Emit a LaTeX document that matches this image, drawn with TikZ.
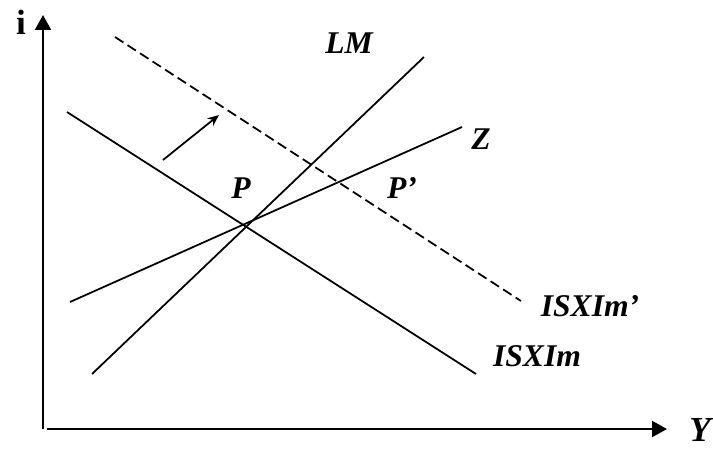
\documentclass[tikz,border=0pt]{standalone}
\usepackage{fontspec}
\setmainfont{Liberation Serif}
\usetikzlibrary{arrows.meta}
\tikzset{
    curvelbl/.style={font=\fontsize{18}{21}\selectfont\bfseries\itshape, inner sep=0pt},
    curve/.style={line width=1pt},
    axis/.style={line width=1.4pt, -{Triangle[length=8.5pt,width=9pt]}}
}

\begin{document}
\begin{tikzpicture}[x=0.02cm,y=-0.02cm,>=Stealth]
    \useasboundingbox (0,0) rectangle (713,450);
    % Define coordinates
    \coordinate (O) at (43,429);
    \coordinate (Ytop) at (43,15);
    \coordinate (Xstart) at (47,429);
    \coordinate (Xend) at (667,429);
    \coordinate (LMa) at (92,374);
    \coordinate (LMb) at (424,57);
    \coordinate (ISa) at (67,112);
    \coordinate (ISb) at (476,374);
    \coordinate (Za) at (70,302);
    \coordinate (Zb) at (462,127);
    \coordinate (ISna) at (115,37);
    \coordinate (ISnb) at (521,301);
    \coordinate (Sa) at (163,160);
    \coordinate (Sb) at (219,115);

    % Axes
    \draw[axis] (O) -- (Ytop);
    \draw[axis] (Xstart) -- (Xend);
    \node[font=\fontsize{20}{24}\selectfont\bfseries, inner sep=0pt] (ilbl) at (21,22) {i};
    \node[curvelbl, font=\fontsize{20}{24}\selectfont\bfseries\itshape] (ylbl) at (700,430) {Y};

    % Curves
    \draw[curve] (LMa) -- (LMb);
    \draw[curve] (ISa) -- (ISb);
    \draw[curve] (Za) -- (Zb);
    \draw[curve, dash pattern=on 5.7pt off 2.8pt] (ISna) -- (ISnb);

    % Shift of the curve
    \draw[curve, -{Stealth[length=6.5pt,width=5.5pt]}] (Sa) -- (Sb);

    % Labels
    \node[curvelbl] (lmlbl) at (349,43) {LM};
    \node[curvelbl] (zlbl) at (481,139) {Z};
    \node[curvelbl] (plbl) at (241,188) {P};
    \node[curvelbl] (pplbl) at (402,188) {P’};
    \node[curvelbl] (isnlbl) at (590,306) {ISXIm’};
    \node[curvelbl] (islbl) at (537,356) {ISXIm};
\end{tikzpicture}
\end{document}
